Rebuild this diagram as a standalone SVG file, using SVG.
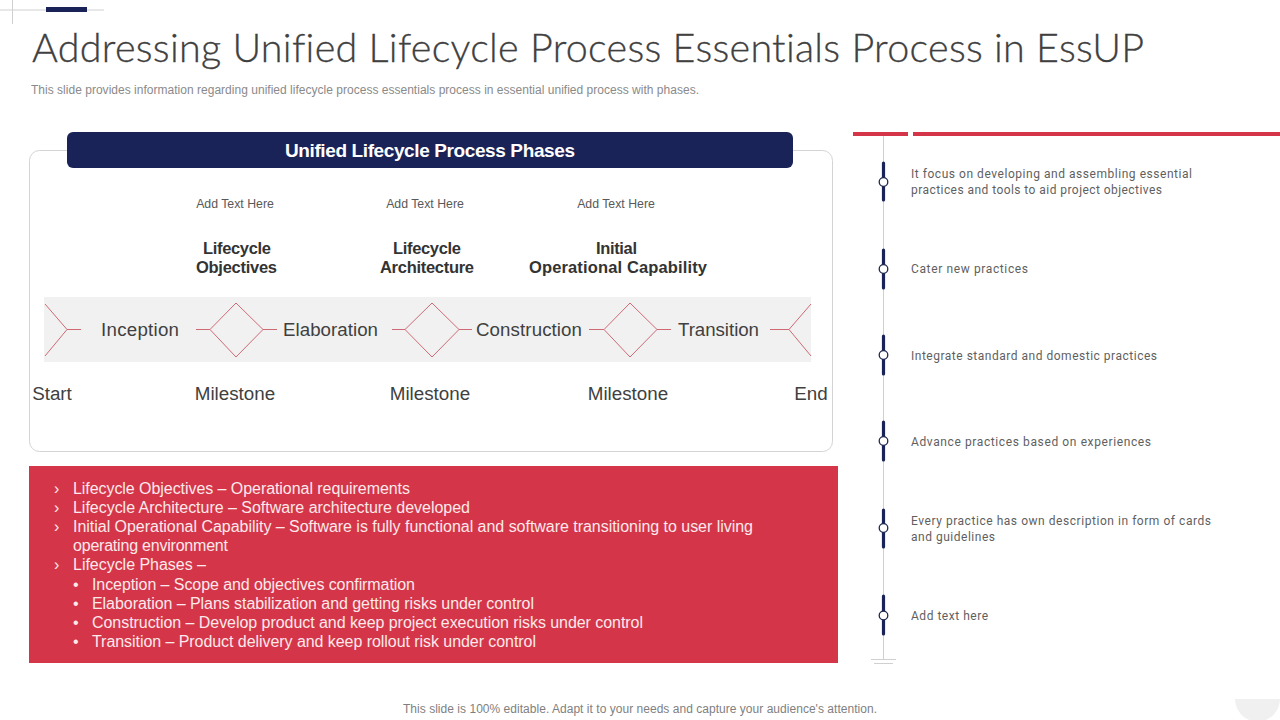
<svg xmlns="http://www.w3.org/2000/svg" width="1280" height="720" viewBox="0 0 1280 720">
<style>
text{font-family:"Liberation Sans",Arial,sans-serif;fill:#404040;font-variant-ligatures:none}
.title{font-family:Lato,"Liberation Sans",sans-serif;font-size:39.500px;font-weight:300;fill:#404040;stroke:#404040;stroke-width:.3px}
.sub{font-size:12px;fill:#8a8a8a}
.hd{font-size:19px;font-weight:700;fill:#fff}
.add{font-size:12.300px;fill:#595959}
.obj{font-size:16.500px;font-weight:700;fill:#333}
.ph{font-size:18.700px}
.ms{font-size:18.800px}
.li{font-size:16px;fill:#fbe9eb}
.rt{font-family:Roboto,"Liberation Sans",sans-serif;font-size:12px;fill:#5f5f5f}
.red{fill:none;stroke:#cf6a75;stroke-width:1}
.tick{stroke:#1a2358;stroke-width:3.200;stroke-linecap:round}
.dot{fill:#fff;stroke:#1f274f;stroke-width:1.300}
.thin{stroke:#d0d0d0;stroke-width:1;fill:none}
</style>
<g id="decor">
<path class="thin" d="M0 10H104M12.500 0V24"/>
<rect x="46" y="7" width="41" height="5" fill="#1a2358"/>
<path d="M1235 699H1280A22.500 22.500 0 0 1 1235 699Z" fill="#f0f0f0"/>
</g>
<g id="header">
<text class="title" x="32" y="62" textLength="1112" lengthAdjust="spacing">Addressing Unified Lifecycle Process Essentials Process in EssUP</text>
<text class="sub" x="31" y="93.500" textLength="668">This slide provides information regarding unified lifecycle process essentials process in essential unified process with phases.</text>
</g>
<g id="phases-panel">
<rect x="29.500" y="150.500" width="803" height="301" rx="10" fill="#fff" stroke="#d4d4d4"/>
<rect x="67" y="132" width="726" height="36" rx="6" fill="#1a2358"/>
<text class="hd" x="285" y="157" textLength="290">Unified Lifecycle Process Phases</text>
<text class="add" x="235" y="208" text-anchor="middle">Add Text Here</text>
<text class="add" x="425" y="208" text-anchor="middle">Add Text Here</text>
<text class="add" x="616" y="208" text-anchor="middle">Add Text Here</text>
<text class="obj" x="203" y="254" textLength="68">Lifecycle</text>
<text class="obj" x="196" y="273" textLength="81">Objectives</text>
<text class="obj" x="393" y="254" textLength="68">Lifecycle</text>
<text class="obj" x="380" y="273" textLength="94">Architecture</text>
<text class="obj" x="596" y="254" textLength="41">Initial</text>
<text class="obj" x="529" y="273" textLength="178">Operational Capability</text>
<rect x="44" y="297" width="767" height="65" fill="#f1f1f1"/>
</g>
<g id="connectors">
<path class="red" d="M45 304L67 329.500L45 356M67 329.500H81"/>
<path class="red" d="M196 329.500H210L236 303L263 329.500L236 357L210 329.500M263 329.500H277"/>
<path class="red" d="M392 329.500H405L432 303L459 329.500L432 357L405 329.500M459 329.500H472"/>
<path class="red" d="M589 329.500H604L630 303L657 329.500L630 357L604 329.500M657 329.500H671"/>
<path class="red" d="M811 304L789 329.500L811 356M789 329.500H770"/>
</g>
<g id="phase-labels">
<text class="ph" x="101" y="336" textLength="78">Inception</text>
<text class="ph" x="283" y="336" textLength="95">Elaboration</text>
<text class="ph" x="476" y="336" textLength="106">Construction</text>
<text class="ph" x="678" y="336" textLength="81">Transition</text>
<text class="ms" x="52" y="400" text-anchor="middle">Start</text>
<text class="ms" x="235" y="400" text-anchor="middle">Milestone</text>
<text class="ms" x="430" y="400" text-anchor="middle">Milestone</text>
<text class="ms" x="628" y="400" text-anchor="middle">Milestone</text>
<text class="ms" x="811" y="400" text-anchor="middle">End</text>
</g>
<g id="details">
<rect x="29" y="466" width="809" height="197" fill="#d53548"/>
<text class="li" x="54" y="494">›</text><text class="li" x="73" y="494" textLength="337">Lifecycle Objectives – Operational requirements</text>
<text class="li" x="54" y="513">›</text><text class="li" x="73" y="513" textLength="397">Lifecycle Architecture – Software architecture developed</text>
<text class="li" x="54" y="532">›</text><text class="li" x="73" y="532" textLength="680">Initial Operational Capability – Software is fully functional and software transitioning to user living</text>
<text class="li" x="73" y="551" textLength="155">operating environment</text>
<text class="li" x="54" y="570">›</text><text class="li" x="73" y="570" textLength="133">Lifecycle Phases –</text>
<text class="li" x="73" y="590">•</text><text class="li" x="92" y="590" textLength="323">Inception – Scope and objectives confirmation</text>
<text class="li" x="73" y="609">•</text><text class="li" x="92" y="609" textLength="442">Elaboration – Plans stabilization and getting risks under control</text>
<text class="li" x="73" y="628">•</text><text class="li" x="92" y="628" textLength="551">Construction – Develop product and keep project execution risks under control</text>
<text class="li" x="73" y="647">•</text><text class="li" x="92" y="647" textLength="444">Transition – Product delivery and keep rollout risk under control</text>
</g>
<g id="timeline">
<rect x="853" y="132" width="55" height="4" fill="#d53548"/>
<rect x="913" y="132" width="367" height="4" fill="#d53548"/>
<path class="thin" d="M883.500 136V660M871 659.500H896M874 663.500H893"/>
</g>
<g id="item-1"><path class="tick" d="M883.500 163V200"/><circle class="dot" cx="883.500" cy="182" r="4.300"/>
<text class="rt" x="911" y="178" textLength="281">It focus on developing and assembling essential</text><text class="rt" x="911" y="194" textLength="251">practices and tools to aid project objectives</text></g>
<g id="item-2"><path class="tick" d="M883.500 250V288"/><circle class="dot" cx="883.500" cy="269" r="4.300"/>
<text class="rt" x="911" y="273" textLength="117">Cater new practices</text></g>
<g id="item-3"><path class="tick" d="M883.500 336V374"/><circle class="dot" cx="883.500" cy="355" r="4.300"/>
<text class="rt" x="911" y="360" textLength="246">Integrate standard and domestic practices</text></g>
<g id="item-4"><path class="tick" d="M883.500 422V460"/><circle class="dot" cx="883.500" cy="441" r="4.300"/>
<text class="rt" x="911" y="446" textLength="240">Advance practices based on experiences</text></g>
<g id="item-5"><path class="tick" d="M883.500 510V547"/><circle class="dot" cx="883.500" cy="528" r="4.300"/>
<text class="rt" x="911" y="525" textLength="300">Every practice has own description in form of cards</text><text class="rt" x="911" y="541" textLength="84">and guidelines</text></g>
<g id="item-6"><path class="tick" d="M883.500 596V634"/><circle class="dot" cx="883.500" cy="615.500" r="4.300"/>
<text class="rt" x="911" y="620" textLength="77">Add text here</text></g>
<g id="footer"><text x="403" y="713" font-size="12" style="fill:#7f7f7f" textLength="474">This slide is 100% editable. Adapt it to your needs and capture your audience's attention.</text></g>
</svg>
